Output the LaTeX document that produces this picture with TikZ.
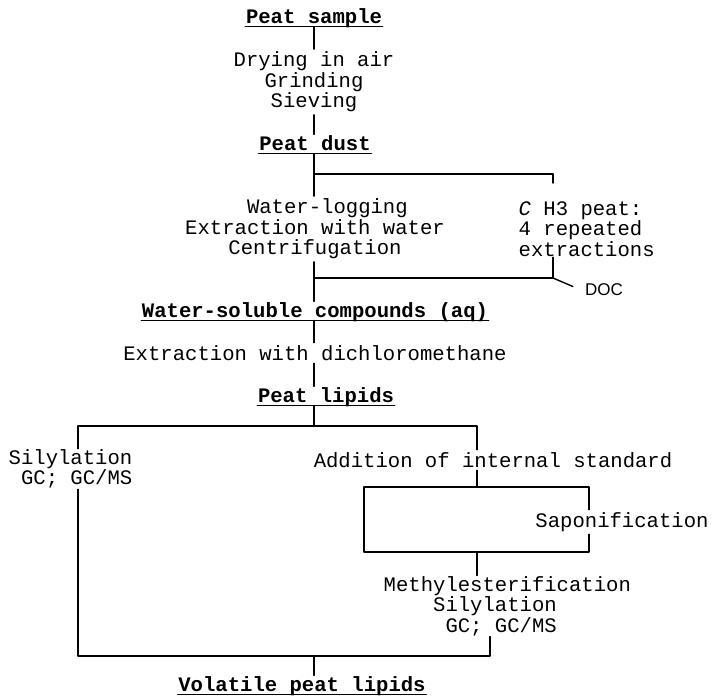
\documentclass[tikz,border=0pt]{standalone}
\usepackage{fontspec}
\setmainfont{Liberation Mono}
\newfontfamily\docfont{Liberation Sans}
\usetikzlibrary{calc}

\tikzset{
  stage/.style={font=\fontsize{20.6}{20.6}\selectfont, align=center, inner sep=2pt},
  heading/.style={font=\bfseries\fontsize{20.6}{20.6}\selectfont, inner sep=0pt, text depth=3pt, anchor=base},
}

\begin{document}
\begin{tikzpicture}[line cap=round,line join=round,x=1pt,y=-1pt,line width=1.4pt]
\useasboundingbox (0,0) rectangle (712,697);
% columns of the connectors
\coordinate (trunk) at (314,0);
\coordinate (rcol) at (553,0);
\coordinate (lcol) at (78,0);
\coordinate (mcol) at (477,0);
\coordinate (gcol) at (490,0);
% stages
\node[heading] (sample) at (314,23) {Peat sample};
\node[stage] (drying) at (314,82) {Drying in air\\Grinding\\Sieving};
\node[heading] (dust) at (315,150) {Peat dust};
\node[stage] (soak) at (315,229) {\hphantom{00}Water-logging\\Extraction with water\\Centrifugation};
\node[stage,anchor=west,align=left,inner sep=0pt] (ch3) at (518,229) {\textit{C} H3 peat:\\4 repeated\\extractions};
\node[font=\docfont\fontsize{17}{17}\selectfont] (doc) at (604,290) {DOC};
\node[heading] (soluble) at (315,317) {Water-soluble compounds (aq)};
\node[stage] (dcm) at (315,353) {Extraction with dichloromethane};
\node[heading] (lipids) at (326,402) {Peat lipids};
\node[stage,anchor=east,align=right,inner sep=0pt] (sil) at (133,469) {Silylation\\GC; GC/MS};
\node[stage] (add) at (493,460) {Addition of internal standard};
\node[stage] (sapon) at (622,522) {Saponification};
\node[stage,anchor=west,align=left,inner sep=0pt] (meth) at (383,606) {Methylesterification\\\hphantom{0000}Silylation\\\hphantom{00000}GC; GC/MS};
\node[heading] (volatile) at (302,691) {Volatile peat lipids};
% underlines
\foreach \n in {sample,dust,soluble,lipids,volatile}
  \draw (\n.south west) -- (\n.south east);
% main line
\draw (sample.south -| trunk) -- (drying.north -| trunk);
\draw (drying.south -| trunk) -- (dust.north -| trunk);
\draw (dust.south -| trunk) -- (soak.north -| trunk);
\coordinate (split1) at (314,174);
\coordinate (ch3top) at (553,183);
\draw (split1) -| (ch3top);
\draw (soak.south -| trunk) -- (soluble.north -| trunk);
\coordinate (join1) at (314,278);
\draw (ch3.south -| rcol) |- (join1);
\draw[shorten >=9pt] (join1 -| rcol) -- (doc.west);
\draw (soluble.south -| trunk) -- (dcm.north -| trunk);
\draw (dcm.south -| trunk) -- (lipids.north -| trunk);
% lipid branches
\coordinate (split2) at (314,426);
\draw (lipids.south -| trunk) -- (split2);
\draw (sil.north -| lcol) |- (split2) -| (add.north -| mcol);
\coordinate (boxnw) at (364,487);
\coordinate (boxse) at (589,552);
\draw (add.south -| mcol) -- (mcol |- boxnw);
\draw (sapon.north -| boxse) |- (boxnw) |- (boxse) -- (sapon.south -| boxse);
\draw (mcol |- boxse) -- (meth.north -| mcol);
\coordinate (join2) at (314,656);
\draw (meth.south -| gcol) |- (join2) -| (sil.south -| lcol);
\draw (join2) -- (volatile.north -| trunk);
\end{tikzpicture}
\end{document}
